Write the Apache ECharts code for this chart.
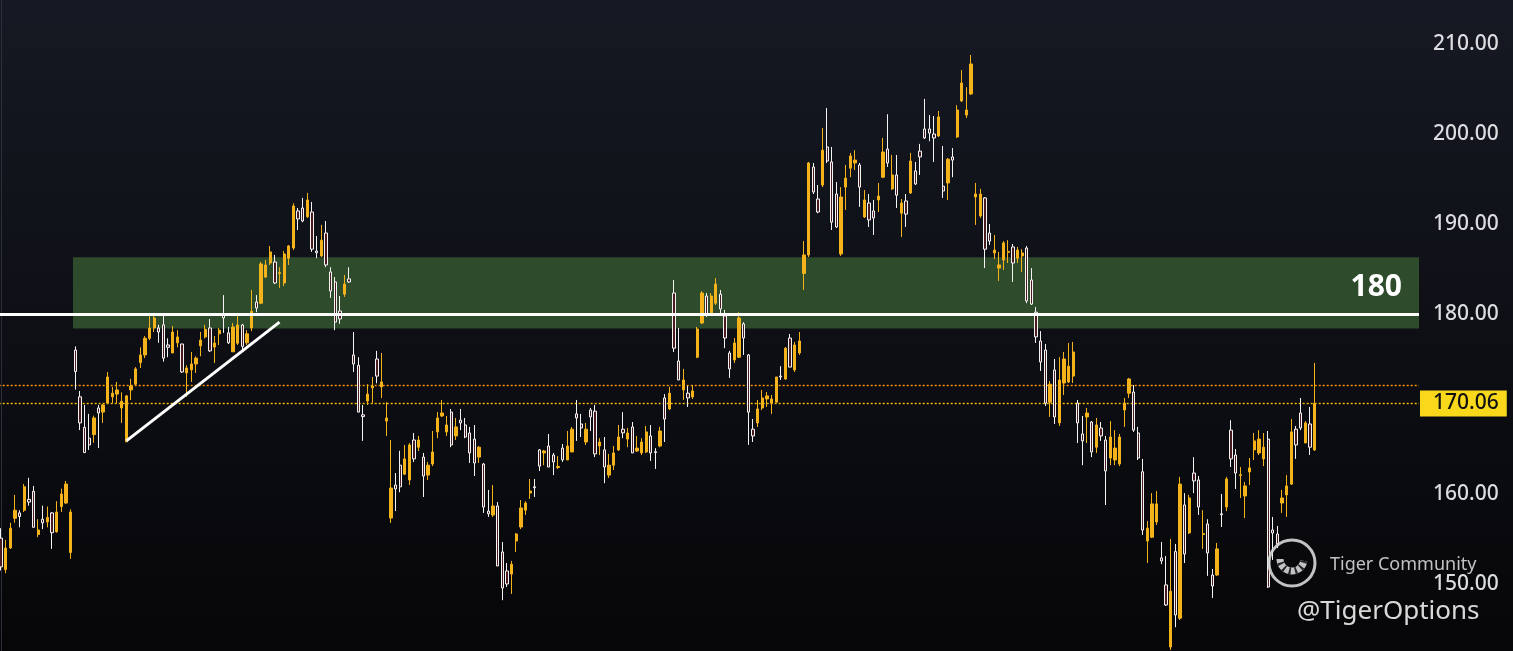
<!DOCTYPE html>
<html><head><meta charset="utf-8">
<script src="https://cdn.jsdelivr.net/npm/echarts@6/dist/echarts.min.js"></script>
<style>html,body{margin:0;padding:0;background:#0c0d12;}#c{width:1513px;height:651px;}</style>
</head><body><div id="c"></div>
<script>
// ---- data ----
const opens = [155.1,151.6,154.0,157.3,157.9,158.2,159.4,160.3,155.5,157.2,156.9,157.9,155.8,158.6,159.0,153.5,
176.0,170.8,167.4,166.2,166.6,169.56,169.1,170.1,170.8,171.1,169.56,165.8,171.56,172.2,174.6,175.45,177.3,178.45,178.45,178.8,
176.56,175.67,176.8,176.67,173.45,173.8,174.45,176.45,177.45,178.45,176.33,177.8,179.9,177.9,175.8,176.75,178.78,176.8,178.45,181.33,
181.2,184.1,185.67,185.78,184.5,183.45,186.2,187.33,191.45,191.78,190.8,191.33,187.0,186.45,189.0,184.67,183.56,180.33,182.2,183.9,
175.45,174.3,168.8,170.33,171.8,175.0,171.9,168.1,157.33,161.0,163.2,162.2,161.56,166.0,165.2,164.1,162.1,163.33,166.9,168.67,
166.9,169.1,166.45,168.2,167.67,166.78,166.1,164.1,163.33,158.1,157.67,158.67,153.56,151.45,151.1,154.78,156.33,158.2,160.1,160.8,
164.9,164.56,165.33,164.33,162.95,165.1,163.78,164.67,168.9,167.78,165.78,169.33,169.2,165.33,164.9,162.1,163.2,164.9,167.2,166.1,
167.45,164.78,164.56,164.67,166.45,164.7,165.33,170.67,169.45,182.33,174.78,171.56,171.2,170.78,175.2,179.0,182.0,180.1,181.2,182.2,
179.78,175.67,174.9,175.2,178.9,175.45,167.2,167.9,169.56,170.56,170.1,170.2,173.1,172.78,177.33,173.78,175.67,184.5,186.56,196.33,
192.78,194.33,198.56,196.9,193.33,186.67,194.1,196.2,196.78,196.56,190.78,192.33,191.45,192.67,195.2,198.33,193.9,195.45,191.2,192.56,
193.45,195.9,198.1,200.56,200.56,200.0,199.78,194.2,194.56,197.45,199.67,203.67,202.1,204.45,193.0,190.9,192.9,189.0,186.78,185.1,
186.0,186.85,187.45,186.2,186.45,187.33,183.78,180.2,177.0,176.0,170.2,173.78,167.9,172.33,172.45,173.1,170.1,166.67,168.56,168.0,
165.2,167.33,166.0,164.0,163.78,163.33,169.33,171.2,171.33,166.78,162.47,154.78,155.2,156.9,152.9,149.9,143.0,153.6,146.2,158.78,
155.67,162.33,161.56,155.5,156.67,151.0,151.0,157.8,158.56,167.1,164.33,162.05,159.78,162.45,164.9,164.56,163.9,166.1,156.0,155.56,
159.0,159.9,161.1,167.2,169.0,165.67,167.78,164.9];
const closes = [151.9,154.0,156.2,158.2,157.5,160.8,159.1,156.3,156.0,156.8,157.4,155.7,158.0,160.0,161.1,158.0,
173.6,167.9,164.6,165.45,168.45,169.0,169.9,173.0,171.2,171.56,170.3,170.9,172.0,173.9,175.45,177.3,178.45,179.56,178.0,175.1,
176.3,178.0,177.45,173.56,174.0,174.45,175.1,177.1,178.3,175.9,176.78,178.2,179.56,176.8,178.56,178.78,176.4,177.8,180.3,180.67,
185.56,185.45,186.9,183.45,184.6,186.67,187.56,192.0,190.56,190.33,192.67,187.2,186.8,188.2,185.45,182.56,179.1,179.45,183.33,183.56,
174.45,169.1,168.6,171.1,172.0,173.1,172.45,168.45,160.67,160.56,160.8,163.9,165.45,163.9,166.0,162.0,163.2,164.67,168.45,169.0,
167.67,165.45,167.45,167.9,166.33,164.56,163.45,165.2,158.56,157.8,158.67,152.0,149.56,150.0,152.2,155.56,158.45,159.0,160.33,160.7,
163.1,164.78,163.0,163.56,163.05,163.8,165.33,167.2,168.45,167.33,167.2,168.56,164.45,165.78,163.0,163.2,164.56,166.33,166.8,166.78,
164.56,165.1,165.78,166.9,164.56,164.6,167.0,168.33,171.2,176.2,172.67,172.67,170.67,171.45,178.33,182.33,179.9,182.0,183.33,180.56,
177.33,173.9,176.78,179.56,177.33,169.1,166.45,169.45,170.67,170.9,170.56,173.0,173.0,176.2,174.1,176.56,177.0,186.56,196.78,193.56,
191.33,198.2,197.0,190.2,189.67,193.0,195.1,197.56,197.1,194.1,192.67,190.45,190.67,193.1,198.0,196.78,195.45,193.2,192.33,191.1,
197.0,194.45,197.45,199.56,200.1,199.56,201.9,193.67,197.2,197.1,202.67,205.67,202.67,207.78,193.33,193.33,187.2,188.1,187.1,185.45,
187.9,186.95,185.67,187.1,186.78,181.45,181.1,177.45,174.67,170.1,172.2,168.56,172.67,175.0,174.2,175.78,167.9,165.9,169.0,164.67,
167.67,166.45,162.56,166.33,165.1,166.33,170.1,172.78,167.1,164.0,156.0,156.2,158.9,158.9,152.56,147.67,149.2,146.56,161.1,153.33,
159.56,161.45,158.56,155.6,153.45,149.78,153.9,157.7,161.67,163.9,162.33,162.15,160.9,162.9,165.9,166.1,165.2,149.67,155.67,154.45,
159.56,160.9,166.9,165.45,167.33,167.9,165.2,170.06];
const lows = [151.5,151.2,153.9,156.8,156.3,158.0,158.7,156.3,155.2,156.1,156.3,153.9,155.7,158.0,158.9,152.8,
171.6,167.1,164.6,164.9,165.7,165.1,167.9,170.0,170.1,170.1,167.9,165.8,170.45,172.1,174.0,175.1,177.1,178.0,176.8,174.7,
175.2,175.67,176.3,173.45,170.8,172.45,173.45,175.3,177.3,175.8,174.56,176.56,177.9,176.67,175.8,176.56,176.0,176.56,178.1,180.2,
181.1,184.0,185.45,183.33,182.9,183.1,185.45,187.1,189.33,190.2,190.67,186.9,186.2,186.33,185.2,181.78,178.2,178.9,181.9,183.45,
173.56,169.1,165.9,169.9,170.1,172.3,170.67,166.45,156.78,158.1,160.2,162.1,161.0,163.56,164.78,159.67,161.56,163.1,166.2,168.56,
166.45,165.2,166.0,167.1,166.2,163.45,162.0,163.45,157.9,157.45,157.45,152.0,148.2,149.67,148.9,153.56,156.1,157.67,159.45,159.67,
162.56,163.2,163.0,162.1,162.78,163.56,163.78,164.67,165.9,166.33,165.45,167.0,164.1,164.33,161.2,161.78,162.67,164.78,166.2,165.2,
164.56,164.67,164.33,164.56,163.67,162.78,165.2,165.78,169.33,175.78,172.67,170.45,169.67,170.56,175.1,178.9,179.67,179.9,181.0,180.1,
176.2,172.9,174.56,175.1,175.45,165.45,165.78,167.45,169.33,169.67,168.9,170.2,172.67,172.67,174.1,173.56,175.45,182.67,186.33,193.33,
191.2,194.1,196.78,189.33,189.56,186.45,191.56,195.2,196.0,191.9,190.67,189.67,188.78,191.33,195.1,196.33,193.78,191.78,188.56,189.67,
193.33,194.33,195.45,199.45,199.2,196.9,199.67,192.9,192.67,195.2,199.56,203.56,201.78,204.33,189.9,190.67,185.1,187.67,186.1,183.67,
184.9,185.67,183.56,185.67,184.67,181.2,181.0,176.78,173.67,169.78,168.56,167.78,167.56,171.0,172.33,172.33,165.67,163.2,165.67,164.1,
164.56,165.9,158.78,163.2,163.2,163.1,167.45,170.67,166.9,163.78,155.45,152.33,155.1,156.56,152.2,147.56,142.67,145.2,146.0,152.33,
155.56,160.1,157.67,153.9,150.9,148.45,150.9,156.33,158.1,163.0,160.56,159.56,157.33,161.0,163.78,164.33,163.1,149.56,152.67,154.0,
157.9,157.45,161.0,163.9,167.1,165.67,164.33,164.78];
const highs = [156.2,154.9,156.8,159.9,158.2,161.1,161.8,160.9,157.2,158.7,158.6,158.0,159.2,160.6,161.45,158.3,
176.4,171.45,169.9,168.9,168.7,169.9,170.0,173.56,171.9,172.45,171.3,171.0,172.8,174.1,176.3,177.55,180.0,180.0,178.8,179.9,
177.3,178.67,178.2,176.67,174.3,175.78,175.3,178.0,178.8,179.45,177.56,178.45,182.1,178.56,179.0,179.9,178.9,178.2,182.67,182.1,
185.8,186.0,187.56,186.56,185.2,187.0,187.67,192.3,191.78,192.9,193.45,192.45,188.67,189.9,190.33,185.2,184.1,182.0,184.33,185.2,
178.0,175.2,169.9,172.2,173.0,175.9,175.67,170.2,166.0,162.33,164.8,165.45,165.67,166.78,166.45,164.56,163.56,167.0,169.1,170.45,
168.67,169.45,168.45,169.45,168.45,167.45,167.67,165.33,163.45,160.45,161.0,159.1,154.67,152.33,152.56,155.67,159.33,159.2,161.67,161.67,
165.0,164.9,166.67,164.56,164.2,165.56,167.0,167.45,170.45,168.9,167.9,169.56,169.9,166.2,166.33,164.45,165.33,167.67,169.1,167.33,
168.0,166.45,166.2,167.56,167.67,165.1,167.45,171.1,171.9,183.78,178.45,173.9,172.0,172.1,178.56,182.56,182.33,182.33,184.0,182.67,
180.45,175.9,177.33,180.2,179.1,175.56,168.33,170.45,171.56,171.33,171.0,173.0,174.2,176.33,177.78,176.9,178.0,188.1,196.9,196.78,
194.33,200.67,202.9,198.56,194.67,194.1,196.56,197.9,198.2,196.78,193.78,193.33,192.67,194.56,199.56,202.2,197.67,197.67,192.78,193.33,
197.9,196.9,198.9,203.9,202.1,202.0,202.56,198.67,197.33,198.45,203.2,207.1,205.2,208.78,194.56,193.9,193.0,190.0,188.78,186.9,
188.1,188.2,187.78,187.45,187.2,187.56,185.1,180.78,178.1,176.67,172.56,175.0,175.2,175.78,176.78,176.9,170.45,168.67,169.56,168.1,
168.45,168.0,166.45,168.1,167.1,166.67,170.67,172.9,172.1,167.45,163.9,157.0,160.1,160.33,154.67,153.1,155.0,154.45,161.9,160.1,
159.9,164.1,162.0,158.2,157.2,151.67,154.56,160.0,161.9,168.2,165.0,163.0,161.33,164.0,166.78,167.1,166.78,167.0,157.45,156.45,
160.45,162.1,168.33,167.56,170.67,168.1,169.67,174.56];
const yTickValues = [150, 160, 170, 180, 190, 200, 210];
const zoneLow = 178.4, zoneHigh = 186.3;      // green supply/demand zone
const keyLevel = 180;                         // white horizontal level
const keyLabel = '180';
const lastClose = 170.06;                     // last price line
const prevClose = 172.1;                      // second dotted price line
const trendStart = [27, 165.9], trendEnd = [60, 179.1];
const zoneStartIndex = 15.5;
const emptySlots = 22;                        // empty space right of last candle

// ---- build ----
const nCandles = opens.length;
const nTotal = nCandles + emptySlots;
const categories = [];
const candleData = [];
for (let i = 0; i < nTotal; i++) {
  categories.push(String(i));
  if (i < nCandles) candleData.push([opens[i], closes[i], lows[i], highs[i]]);
  else candleData.push('-');
}
const gold = '#f4b31a';

const chart = echarts.init(document.getElementById('c'), null, {renderer: 'canvas'});
chart.setOption({
  animation: false,
  backgroundColor: {type: 'linear', x: 0, y: 0, x2: 0, y2: 1,
    colorStops: [{offset: 0, color: '#161923'}, {offset: 1, color: '#060608'}]},
  grid: {left: -1.3, right: 94, top: -46, bottom: -23, containLabel: false, outerBoundsMode: 'none'},
  xAxis: [
    {type: 'category', data: categories, boundaryGap: true, show: false},
    {type: 'value', min: -0.5, max: nTotal - 0.5, show: false}
  ],
  yAxis: {
    type: 'value', position: 'right', min: 140, max: 220, interval: 10, scale: false,
    axisLine: {show: true, lineStyle: {color: '#2b2f3a', width: 1}},
    axisTick: {show: false}, splitLine: {show: false},
    axisLabel: {color: '#dadce0', fontSize: 21, margin: 14, fontFamily: 'Noto Sans', fontWeight: 500,
      formatter: v => (yTickValues.includes(v) && v !== 170) ? v.toFixed(2) : ''}
  },
  series: [
    {
      type: 'candlestick', xAxisIndex: 0, yAxisIndex: 0, data: candleData, barWidth: 2.8, z: 3,
      itemStyle: {color: gold, borderColor: gold, color0: '#4a1b1e', borderColor0: '#f4f4f4', borderWidth: 1}
    },
    {
      type: 'line', xAxisIndex: 1, yAxisIndex: 0, data: [], symbol: 'none', silent: true, z: 1,
      markArea: {silent: true, itemStyle: {color: '#2e4b2c'},
        data: [[{coord: [zoneStartIndex, zoneHigh]}, {coord: [nTotal - 0.5, zoneLow]}]]}
    },
    {
      type: 'line', xAxisIndex: 1, yAxisIndex: 0, data: [], symbol: 'none', silent: true, z: 2,
      markLine: {silent: true, symbol: ['none', 'none'], z: 2, precision: 2,
        data: [
          {yAxis: prevClose, lineStyle: {color: '#ff9a00', width: 1.4, type: [2, 2], opacity: 1}, label: {show: false}},
          {yAxis: lastClose, lineStyle: {color: '#ffc000', width: 1.4, type: [2, 2], opacity: 1},
            label: {show: true, position: 'end', distance: 1, formatter: lastClose.toFixed(2),
              backgroundColor: '#f9d81c', color: '#111', fontSize: 21, fontFamily: 'Noto Sans', fontWeight: 500,
              padding: [1, 8, 0, 13], lineHeight: 25}}
        ]}
    },
    {
      type: 'line', xAxisIndex: 1, yAxisIndex: 0, data: [], symbol: 'none', silent: true, z: 6,
      markLine: {silent: true, symbol: ['none', 'none'], z: 6,
        data: [
          {yAxis: keyLevel, lineStyle: {color: '#ffffff', width: 3, type: 'solid'},
            label: {show: true, position: 'insideEndTop', formatter: keyLabel, distance: [17, 12],
              color: '#ffffff', fontSize: 30, fontWeight: 'bold', fontFamily: 'Noto Sans'}},
          [{coord: trendStart, lineStyle: {color: '#ffffff', width: 3, type: 'solid'}, label: {show: false}},
           {coord: trendEnd}]
        ]}
    }
  ],
  graphic: [
    {type: 'circle', shape: {cx: 1292, cy: 563, r: 23}, z: 100,
      style: {fill: 'rgba(0,0,0,0)', stroke: 'rgba(215,215,215,0.9)', lineWidth: 3}},
    {type: 'arc', shape: {cx: 1292, cy: 559, r: 12, startAngle: Math.PI * 0.05, endAngle: Math.PI * 1.0}, z: 100,
      style: {fill: 'none', stroke: 'rgba(215,215,215,0.9)', lineWidth: 7}},
    {type: 'arc', shape: {cx: 1292, cy: 559, r: 12, startAngle: Math.PI * 0.05, endAngle: Math.PI * 1.0}, z: 101,
      style: {fill: 'none', stroke: 'rgba(20,20,24,0.9)', lineWidth: 7, lineDash: [2, 4]}},
    {type: 'text', left: 1330, top: 556, z: 100,
      style: {text: 'Tiger Community', fill: 'rgba(210,210,210,0.92)', fontSize: 18, fontFamily: 'Noto Sans'}},
    {type: 'text', left: 1297, top: 599, z: 100,
      style: {text: '@TigerOptions', fill: 'rgba(228,228,228,0.95)', fontSize: 26, fontFamily: 'Noto Sans'}}
  ]
});
</script>
</body></html>
